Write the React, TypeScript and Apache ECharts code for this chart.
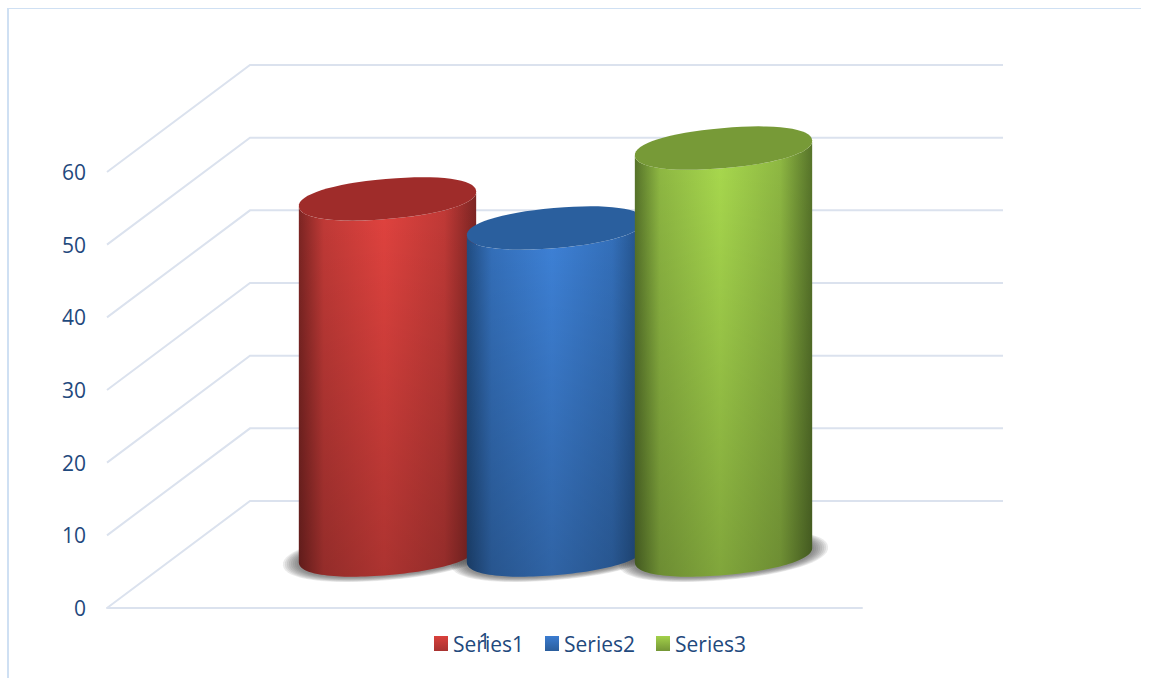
import React, { useEffect, useRef } from "react";
import * as echarts from "echarts";

const categories = ["1"];
const seriesNames = ["Series1", "Series2", "Series3"];
const series1Values = [49];
const series2Values = [45];
const series3Values = [56];
const gridTicks = [0, 10, 20, 30, 40, 50, 60];

const palettes = [
  { edge: "#7d2523", mid: "#c23a37", light: "#e2433f", cap: "#9f2c2a", swatchA: "#d9403c", swatchB: "#a83230" },
  { edge: "#214d82", mid: "#3470bb", light: "#3e82d8", cap: "#2a5f9e", swatchA: "#3b7cd0", swatchB: "#2a5d9c" },
  { edge: "#57742a", mid: "#8fb943", light: "#a9da4e", cap: "#779a37", swatchA: "#a3d14a", swatchB: "#749636" },
];

const DEPTH_X = 143;
const DEPTH_Y = 107;
const PLANE_X = 71;
const PLANE_Y = 53;
const STEP = 168;
const RX = 89;
const RY = 20;
const TILT = (5 * Math.PI) / 180;
const ROUNDNESS = 0.92;

function arc(cx: number, cy: number, from: number, to: number, rx = RX, ry = RY) {
  const pts: number[][] = [];
  const n = 64;
  for (let i = 0; i <= n; i++) {
    const t = from + ((to - from) * i) / n;
    const c = Math.cos(t);
    const s = Math.sin(t);
    const ex = rx * Math.sign(c) * Math.pow(Math.abs(c), ROUNDNESS);
    const ey = ry * Math.sign(s) * Math.pow(Math.abs(s), ROUNDNESS);
    pts.push([cx + ex * Math.cos(TILT) + ey * Math.sin(TILT), cy - ex * Math.sin(TILT) + ey * Math.cos(TILT)]);
  }
  return pts;
}

function renderShadow(_params: any, api: any) {
  const base = api.coord([0, 0]);
  const cx = base[0] + PLANE_X + (api.value(0) - 1) * STEP;
  const yBase = base[1] - PLANE_Y;
  const layers = [];
  for (let k = 0; k < 8; k++) {
    layers.push({
      type: "polygon",
      shape: { points: arc(cx, yBase + 1, 0, Math.PI * 2, RX + 16 - k * 2, RY + 4 - k * 0.6) },
      style: { fill: "rgba(70,70,70,0.11)" },
    });
  }
  return { type: "group", children: layers };
}

function cylinder(idx: number) {
  return (_params: any, api: any) => {
    const top = api.coord([0, api.value(1)]);
    const base = api.coord([0, 0]);
    const cx = top[0] + PLANE_X + (idx - 1) * STEP;
    const yTop = top[1] - PLANE_Y;
    const yBase = base[1] - PLANE_Y;
    const p = palettes[idx];
    const side = [...arc(cx, yTop, Math.PI, 0), ...arc(cx, yBase, 0, Math.PI)];
    const horizontal = new echarts.graphic.LinearGradient(0, 0, 1, 0, [
      { offset: 0, color: p.edge },
      { offset: 0.14, color: p.mid },
      { offset: 0.48, color: p.light },
      { offset: 0.82, color: p.mid },
      { offset: 1, color: p.edge },
    ]);
    const vertical = new echarts.graphic.LinearGradient(0, 0, 0, 1, [
      { offset: 0, color: "rgba(0,0,0,0)" },
      { offset: 1, color: "rgba(0,0,0,0.24)" },
    ]);
    return {
      type: "group",
      children: [
        { type: "polygon", shape: { points: side }, style: { fill: horizontal } },
        { type: "polygon", shape: { points: side }, style: { fill: vertical } },
        { type: "polygon", shape: { points: arc(cx, yTop, 0, Math.PI * 2) }, style: { fill: p.cap } },
      ],
    };
  };
}

function renderWall(params: any, api: any) {
  const y = api.coord([0, api.value(1)])[1];
  const x = params.coordSys.x;
  const w = params.coordSys.width;
  return {
    type: "polyline",
    shape: {
      points: [
        [x, y],
        [x + DEPTH_X, y - DEPTH_Y],
        [x + DEPTH_X + w - 2, y - DEPTH_Y],
      ],
    },
    style: { fill: "none", stroke: "#dbe2ee", lineWidth: 2 },
  };
}

export default function App() {
  const ref = useRef<HTMLDivElement>(null);
  useEffect(() => {
    const chart = echarts.init(ref.current!, null, { renderer: "svg" });
    const values = [series1Values, series2Values, series3Values];
    chart.setOption({
      animation: false,
      backgroundColor: "#ffffff",
      grid: { left: 107, top: 172, width: 755, height: 436 },
      xAxis: {
        type: "category",
        data: categories,
        axisTick: { show: false },
        axisLine: { lineStyle: { color: "#dbe2ee", width: 2 } },
        axisLabel: { fontFamily: "Open Sans", fontSize: 21, color: "#1f497d", margin: 22 },
      },
      yAxis: {
        type: "value",
        min: 0,
        max: 60,
        interval: 10,
        axisLine: { show: false },
        axisTick: { show: false },
        splitLine: { show: false },
        axisLabel: { fontFamily: "Open Sans", fontSize: 21, color: "#1f497d", margin: 21, padding: [8, 0, 0, 0] },
      },
      legend: {
        left: 429,
        top: 628,
        itemWidth: 14,
        itemHeight: 15,
        itemGap: 21,
        icon: "rect",
        textStyle: { fontFamily: "Open Sans", fontSize: 21, color: "#1f497d" },
        data: seriesNames.map((name, i) => ({
          name,
          itemStyle: {
            color: new echarts.graphic.LinearGradient(0, 0, 0, 1, [
              { offset: 0, color: palettes[i].swatchA },
              { offset: 1, color: palettes[i].swatchB },
            ]),
          },
        })),
      },
      graphic: [
        { type: "line", shape: { x1: 8, y1: 8.5, x2: 1141, y2: 8.5 }, style: { stroke: "#cfe0f3", lineWidth: 1 }, silent: true },
        { type: "line", shape: { x1: 8, y1: 8, x2: 8, y2: 678 }, style: { stroke: "#cfe0f3", lineWidth: 2 }, silent: true },
      ],
      series: [
        {
          type: "custom",
          name: "walls",
          coordinateSystem: "cartesian2d",
          renderItem: renderWall,
          encode: { x: 0, y: 1 },
          data: gridTicks.map((v) => [0, v]),
          silent: true,
          z: 1,
        },
        {
          type: "custom",
          name: "shadows",
          coordinateSystem: "cartesian2d",
          renderItem: renderShadow,
          encode: { x: 0, y: 1 },
          data: seriesNames.map((_, i) => [i, 0]),
          silent: true,
          z: 2,
        },
        ...seriesNames.map((name, i) => ({
          type: "custom",
          name,
          coordinateSystem: "cartesian2d",
          renderItem: cylinder(i),
          encode: { x: 0, y: 1 },
          itemStyle: { color: palettes[i].swatchA },
          data: values[i].map((v, k) => [k, v]),
          z: 3 + i,
        })),
      ],
    });
    return () => chart.dispose();
  }, []);
  return <div ref={ref} style={{ position: "fixed", left: 0, top: 0, width: 1151, height: 678 }} />;
}
